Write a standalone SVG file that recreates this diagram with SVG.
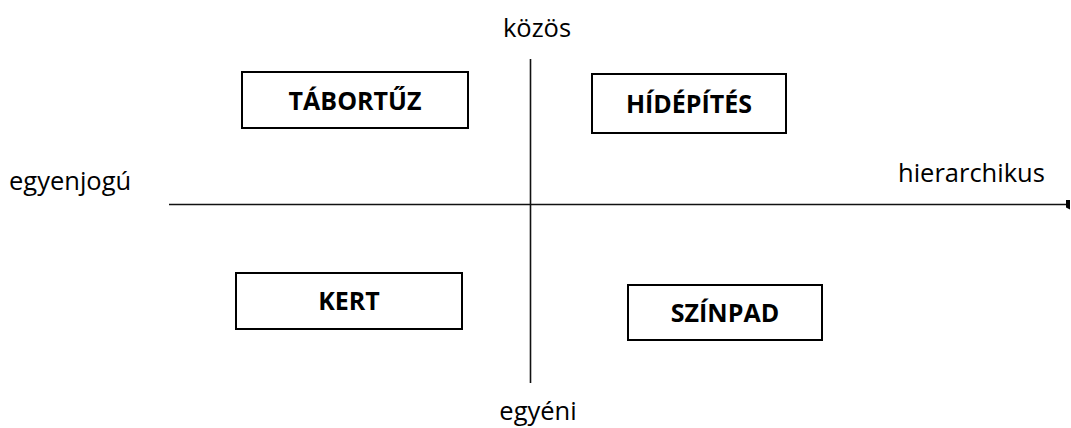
<svg xmlns="http://www.w3.org/2000/svg" width="1071" height="428" viewBox="0 0 1071 428">
<defs>
<style>
.box{fill:#fff;stroke:#000;stroke-width:2}
.lbl{font-family:"Open Sans","Liberation Sans",sans-serif;font-weight:bold;font-size:25px;fill:#000;text-anchor:middle}
.ax{font-family:"Open Sans","Liberation Sans",sans-serif;font-size:25.5px;fill:#000}
.axis{stroke:#111;stroke-width:1.6;fill:none}
</style>
<marker id="end" viewBox="0 0 4 10" refX="0" refY="5" markerWidth="4" markerHeight="10" markerUnits="userSpaceOnUse" orient="auto">
<path d="M0,0 L4,0 L4,10 L0,8 Z" fill="#000"/>
</marker>
</defs>
<rect width="1071" height="428" fill="#fff"/>
<g id="connectors">
<line class="axis" x1="169" y1="204.5" x2="1066" y2="204.5" marker-end="url(#end)"/>
<line class="axis" x1="530.5" y1="59" x2="530.5" y2="383"/>
</g>
<g id="axis-labels">
<text class="ax" x="537" y="37" text-anchor="middle">közös</text>
<text class="ax" x="538" y="420" text-anchor="middle">egyéni</text>
<text class="ax" x="9" y="190">egyenjogú</text>
<text class="ax" x="898" y="182">hierarchikus</text>
</g>
<g id="tabortuz">
<rect class="box" x="242" y="72" width="226" height="56"/>
<text class="lbl" x="355" y="110">TÁBORTŰZ</text>
</g>
<g id="hidepites">
<rect class="box" x="592" y="74" width="194" height="59"/>
<text class="lbl" x="689" y="113">HÍDÉPÍTÉS</text>
</g>
<g id="kert">
<rect class="box" x="236" y="273" width="226" height="56"/>
<text class="lbl" x="349" y="310">KERT</text>
</g>
<g id="szinpad">
<rect class="box" x="628" y="285" width="194" height="55"/>
<text class="lbl" x="725" y="322">SZÍNPAD</text>
</g>
</svg>
